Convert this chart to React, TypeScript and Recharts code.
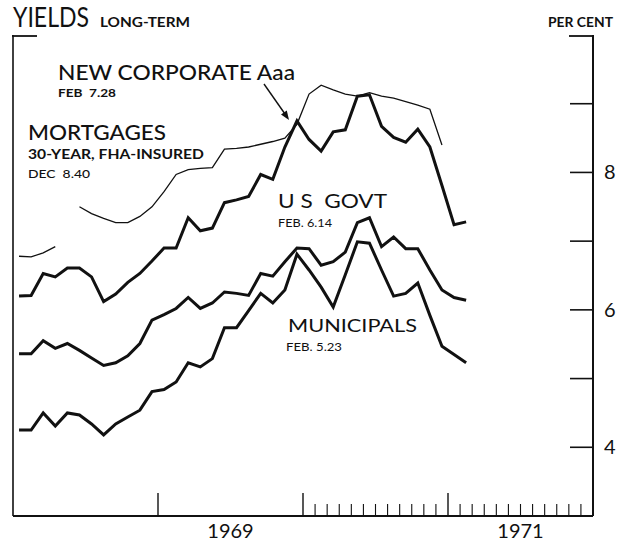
import { LineChart, Line, XAxis, YAxis } from 'recharts';

// monthly observations, Jan 1968 .. Feb 1971
const MONTHS = [
  '1968-01', '1968-02', '1968-03', '1968-04', '1968-05', '1968-06', '1968-07', '1968-08', '1968-09', '1968-10', '1968-11', '1968-12',
  '1969-01', '1969-02', '1969-03', '1969-04', '1969-05', '1969-06', '1969-07', '1969-08', '1969-09', '1969-10', '1969-11', '1969-12',
  '1970-01', '1970-02', '1970-03', '1970-04', '1970-05', '1970-06', '1970-07', '1970-08', '1970-09', '1970-10', '1970-11', '1970-12',
  '1971-01', '1971-02',
];

const CORPORATE = [
  6.2, 6.21, 6.53, 6.48, 6.61, 6.61, 6.48, 6.12, 6.23, 6.4, 6.53, 6.71,
  6.9, 6.9, 7.34, 7.15, 7.19, 7.56, 7.6, 7.65, 7.97, 7.9, 8.37, 8.75,
  8.48, 8.31, 8.59, 8.62, 9.11, 9.13, 8.67, 8.51, 8.44, 8.63, 8.37, 7.81,
  7.24, 7.28,
];

const GOVT = [
  5.36, 5.36, 5.55, 5.44, 5.51, 5.41, 5.3, 5.19, 5.23, 5.33, 5.51, 5.85,
  5.93, 6.02, 6.18, 6.02, 6.1, 6.26, 6.24, 6.21, 6.53, 6.49, 6.7, 6.9,
  6.89, 6.65, 6.7, 6.84, 7.27, 7.34, 6.92, 7.06, 6.89, 6.89, 6.58, 6.29,
  6.18, 6.14,
];

const MUNICIPALS = [
  4.25, 4.25, 4.5, 4.31, 4.5, 4.47, 4.34, 4.18, 4.34, 4.44, 4.54, 4.81,
  4.84, 4.95, 5.23, 5.17, 5.29, 5.74, 5.74, 5.99, 6.24, 6.1, 6.29, 6.81,
  6.58, 6.33, 6.04, 6.51, 6.99, 6.97, 6.58, 6.2, 6.24, 6.39, 5.92, 5.47,
  5.35, 5.23,
];

const MORTGAGES = [
  6.78, 6.77, 6.83, 6.92, null, 7.5, 7.4, 7.33, 7.27, 7.27, 7.36, 7.5,
  7.72, 7.97, 8.04, 8.06, 8.07, 8.34, 8.35, 8.37, 8.41, 8.45, 8.5, 8.7,
  9.14, 9.27, 9.2, 9.14, 9.11, 9.16, 9.11, 9.08, 9.03, 8.98, 8.92, 8.4,
  null, null,
];

const Y_TICKS = [4, 5, 6, 7, 8, 9];
const Y_LABELS = [4, 6, 8];
const MAJOR_YEARS = [1969, 1970, 1971];
const MINOR_FROM = 1970; // monthly ticks only drawn from here on
const YEAR_LABELS = [
  { at: 1969.5, text: '1969' },
  { at: 1971.5, text: '1971' },
];

const INK = '#111';
const FONT = 'Lato, "DejaVu Sans", sans-serif';

// month string -> decimal year at mid-month
const toX = (m: string) => {
  const [y, mo] = m.split('-').map(Number);
  return y + (mo - 0.5) / 12;
};

const rows = MONTHS.map((m, i) => ({
  x: toX(m),
  corporate: CORPORATE[i],
  govt: GOVT[i],
  municipals: MUNICIPALS[i],
  mortgages: MORTGAGES[i],
}));

const near = (a: number, b: number) => Math.abs(a - b) < 1e-6;

const xTicks = (() => {
  const t: number[] = [...MAJOR_YEARS, 1969.5];
  for (let k = 1; k < 24; k++) {
    const v = MINOR_FROM + k / 12;
    if (!t.some((u) => near(u, v))) t.push(v);
  }
  return t.sort((a, b) => a - b);
})();

const XTick = (props: any) => {
  const { x, y, payload } = props;
  const v = payload.value;
  const major = MAJOR_YEARS.some((m) => near(m, v));
  const minor = !major && v > MINOR_FROM;
  const label = YEAR_LABELS.find((l) => near(l.at, v));
  return (
    <g>
      {major && <line x1={x} x2={x} y1={y} y2={y - 23} stroke={INK} strokeWidth={1.4} />}
      {minor && <line x1={x} x2={x} y1={y} y2={y - 12} stroke={INK} strokeWidth={1.1} />}
      {label && (
        <text x={x} y={y + 22} textAnchor="middle" fontSize={20} fontFamily={FONT} fill={INK}>
          {label.text}
        </text>
      )}
    </g>
  );
};

const RightTick = (props: any) => {
  const { x, y, payload } = props;
  const v = payload.value;
  return (
    <g>
      <line x1={x - 23} x2={x} y1={y} y2={y} stroke={INK} strokeWidth={1.6} />
      {Y_LABELS.includes(v) && (
        <text x={x + 11} y={y + 7} fontSize={20} fontFamily={FONT} fill={INK}>
          {v}
        </text>
      )}
    </g>
  );
};

const pre = { whiteSpace: 'pre' as const };

const Annotations = () => (
  <svg
    width={627}
    height={544}
    style={{ position: 'absolute', left: 0, top: 0, pointerEvents: 'none' }}
    fontFamily={FONT}
    fill={INK}
  >
    {/* frame caps at the top of both axes */}
    <line x1={12} x2={37} y1={36} y2={36} stroke={INK} strokeWidth={1.8} />
    <line x1={569} x2={594} y1={36} y2={36} stroke={INK} strokeWidth={1.8} />

    <text x={13} y={27} fontSize={26} textLength={76} lengthAdjust="spacingAndGlyphs">YIELDS</text>
    <text x={100} y={27} fontSize={12.5} fontWeight={700} textLength={90} lengthAdjust="spacingAndGlyphs">LONG-TERM</text>
    <text x={548} y={27} fontSize={13} fontWeight={700} textLength={65} lengthAdjust="spacingAndGlyphs">PER CENT</text>

    <text x={58} y={80} fontSize={21} fontWeight={500} textLength={237} lengthAdjust="spacingAndGlyphs">NEW CORPORATE Aaa</text>
    <text x={58} y={97} fontSize={11.5} fontWeight={700} textLength={58} lengthAdjust="spacingAndGlyphs" style={pre}>FEB  7.28</text>

    <text x={28} y={140} fontSize={21} fontWeight={500} textLength={138} lengthAdjust="spacingAndGlyphs">MORTGAGES</text>
    <text x={28} y={159} fontSize={14} fontWeight={700} textLength={176} lengthAdjust="spacingAndGlyphs">30-YEAR, FHA-INSURED</text>
    <text x={28} y={178} fontSize={12} fontWeight={500} textLength={62} lengthAdjust="spacingAndGlyphs" style={pre}>DEC  8.40</text>

    <text x={278} y={208} fontSize={19} textLength={109} lengthAdjust="spacingAndGlyphs" style={pre}>U S  GOVT</text>
    <text x={278} y={227} fontSize={11.5} textLength={54} lengthAdjust="spacingAndGlyphs">FEB. 6.14</text>

    <text x={288} y={332} fontSize={18} textLength={129} lengthAdjust="spacingAndGlyphs">MUNICIPALS</text>
    <text x={286} y={351} fontSize={11.5} textLength={56} lengthAdjust="spacingAndGlyphs">FEB. 5.23</text>

    <line x1={264} y1={84} x2={285} y2={114} stroke={INK} strokeWidth={1.4} />
    <polygon points="289,120 286.8,110.6 281,114.6" fill={INK} />
  </svg>
);

export default function App() {
  return (
    <div style={{ position: 'absolute', left: 0, top: 0, width: 627, height: 544, background: '#fff' }}>
      <LineChart width={627} height={544} data={rows} margin={{ top: 35, right: 0, bottom: 0, left: 12 }}>
        <XAxis
          dataKey="x"
          type="number"
          domain={[1968, 1972]}
          ticks={xTicks}
          interval={0}
          tickSize={0}
          tickMargin={0}
          tickLine={false}
          tick={<XTick />}
          height={28}
          axisLine={{ stroke: INK, strokeWidth: 2 }}
        />
        <YAxis
          yAxisId="right"
          orientation="right"
          type="number"
          domain={[3, 10]}
          ticks={Y_TICKS}
          interval={0}
          tickSize={0}
          tickMargin={0}
          tickLine={false}
          tick={<RightTick />}
          width={34}
          axisLine={{ stroke: INK, strokeWidth: 2 }}
        />
        <YAxis
          yAxisId="left"
          orientation="left"
          type="number"
          domain={[3, 10]}
          tick={false}
          tickLine={false}
          width={1}
          axisLine={{ stroke: INK, strokeWidth: 1.6 }}
        />
        <Line yAxisId="right" dataKey="mortgages" stroke={INK} strokeWidth={1.3} dot={false} isAnimationActive={false} />
        <Line yAxisId="right" dataKey="corporate" stroke={INK} strokeWidth={3} dot={false} isAnimationActive={false} />
        <Line yAxisId="right" dataKey="govt" stroke={INK} strokeWidth={3} dot={false} isAnimationActive={false} />
        <Line yAxisId="right" dataKey="municipals" stroke={INK} strokeWidth={3} dot={false} isAnimationActive={false} />
      </LineChart>
      <Annotations />
    </div>
  );
}
